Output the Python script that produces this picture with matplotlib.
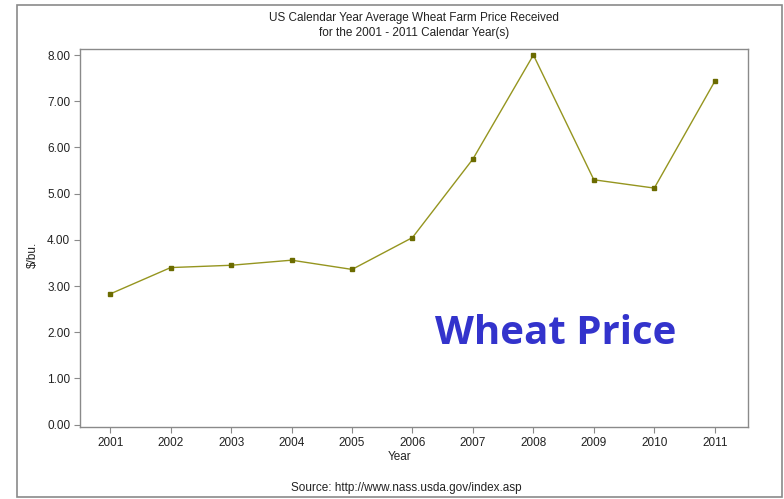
import matplotlib
matplotlib.use("Agg")
import matplotlib.pyplot as plt
from matplotlib.patches import Rectangle

years = [2001, 2002, 2003, 2004, 2005, 2006, 2007, 2008, 2009, 2010, 2011]
prices = [2.83, 3.40, 3.45, 3.56, 3.36, 4.05, 5.75, 8.00, 5.30, 5.12, 7.43]
yticks = [0, 1, 2, 3, 4, 5, 6, 7, 8]
ytick_labels = ["0.00", "1.00", "2.00", "3.00", "4.00", "5.00", "6.00", "7.00", "8.00"]

W, H = 784, 499
fig = plt.figure(figsize=(W / 100, H / 100), dpi=100)
plt.rcParams['font.family'] = ['Liberation Sans', 'DejaVu Sans']

# outer frame
fig.patches.append(Rectangle((17 / W, 1 - 497 / H), (782 - 17) / W, (497 - 5) / H,
                             transform=fig.transFigure, fill=False,
                             edgecolor='#8a8a8a', linewidth=1.2))

ax = fig.add_axes([80 / W, 1 - 427 / H, (748 - 80) / W, (427 - 49) / H])
ax.plot(years, prices, color='#95951f', linewidth=1.0, marker='s', markersize=2.5,
        markerfacecolor='#6b6b00', markeredgecolor='#6b6b00')
ax.set_xlim(2000.5, 2011.55)
ax.set_ylim(-0.05, 8.13)
ax.set_xticks(years)
ax.set_xticklabels([str(y) for y in years])
ax.set_yticks(yticks)
ax.set_yticklabels(ytick_labels)
for s in ax.spines.values():
    s.set_color('#8a8a8a')
    s.set_linewidth(1.0)
ax.tick_params(axis='both', direction='out', length=4, width=0.8, color='#8a8a8a',
               labelsize=8.5, labelcolor='#222222', pad=3)

fig.text(414 / W, 1 - 18 / H, "US Calendar Year Average Wheat Farm Price Received",
         ha='center', va='center', fontsize=8.5, color='#222222')
fig.text(414 / W, 1 - 33 / H, "for the 2001 - 2011 Calendar Year(s)",
         ha='center', va='center', fontsize=8.5, color='#222222')
fig.text(33 / W, 1 - 255 / H, "$/bu.", rotation=90, ha='center', va='center',
         fontsize=8.5, color='#222222')
fig.text(400 / W, 1 - 457 / H, "Year", ha='center', va='center', fontsize=8.5, color='#222222')
fig.text(406 / W, 1 - 488 / H, "Source: http://www.nass.usda.gov/index.asp",
         ha='center', va='center', fontsize=8.5, color='#222222')
fig.text(556 / W, 1 - 334 / H, "Wheat Price", ha='center', va='center',
         fontsize=29, fontweight='bold', color='#3333cc', family=['Open Sans', 'DejaVu Sans'])

fig.savefig("out.png", dpi=100)
